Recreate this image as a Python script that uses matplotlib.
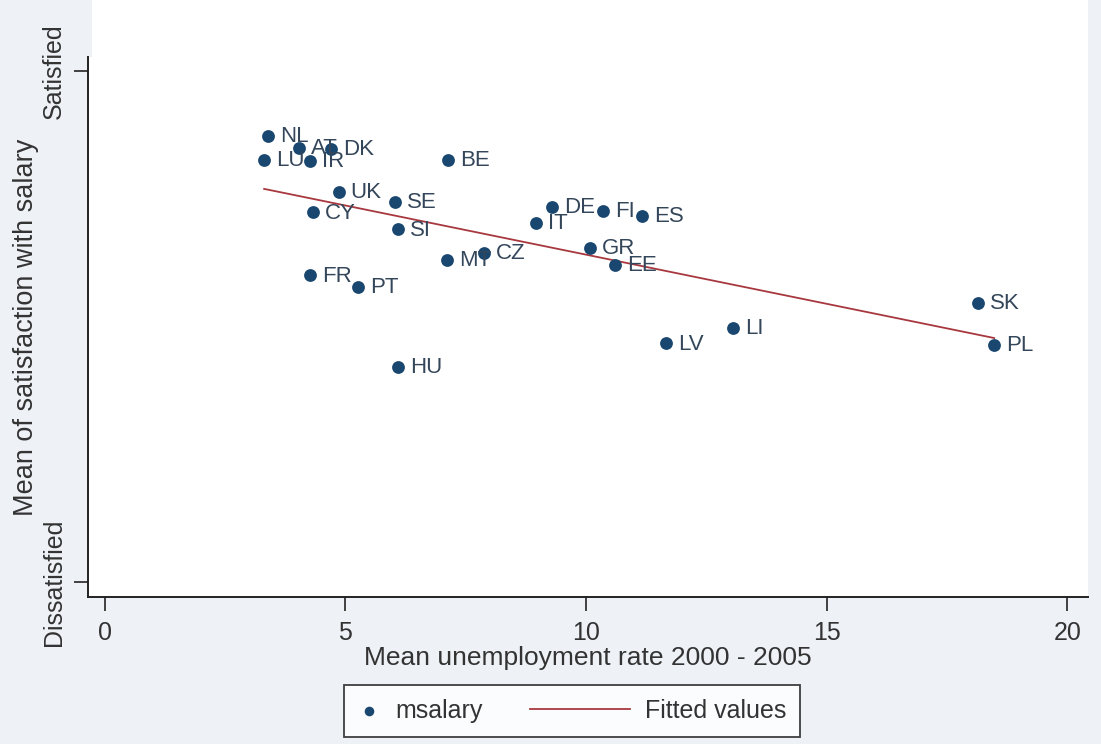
import numpy as np
import matplotlib.pyplot as plt
from matplotlib.patches import Rectangle
from matplotlib.legend_handler import HandlerLine2D

plt.rcParams["font.family"] = ["Liberation Sans", "DejaVu Sans"]

# country means: unemployment 2000-2005 vs satisfaction with salary (1 = dissatisfied, 4 = satisfied)
countries = ["NL", "AT", "DK", "LU", "IR", "BE", "UK", "SE", "CY", "SI",
             "DE", "FI", "ES", "IT", "GR", "CZ", "MT", "EE", "FR", "PT",
             "SK", "LI", "LV", "PL", "HU"]
unemployment = [3.39, 4.03, 4.70, 3.31, 4.26, 7.13, 4.86, 6.03, 4.32, 6.09,
                9.29, 10.35, 11.16, 8.96, 10.08, 7.88, 7.11, 10.60, 4.26, 5.26,
                18.15, 13.06, 11.66, 18.48, 6.09]
msalary = [3.62, 3.55, 3.54, 3.48, 3.47, 3.48, 3.29, 3.23, 3.17, 3.07,
           3.20, 3.18, 3.15, 3.11, 2.96, 2.93, 2.89, 2.86, 2.80, 2.73,
           2.64, 2.49, 2.40, 2.39, 2.26]

x = np.array(unemployment)
y = np.array(msalary)

navy = "#1a476f"
red = "#a8383f"
bg = "#eef2f7"
txt = "#333333"


class LongLineHandler(HandlerLine2D):
    # stretch the fitted-line key to the left into the column gap
    def create_artists(self, legend, orig_handle, xdescent, ydescent,
                       width, height, fontsize, trans):
        ext = 3.1 * fontsize
        return super().create_artists(legend, orig_handle, xdescent + ext, ydescent,
                                      width + ext, height, fontsize, trans)


fig = plt.figure(figsize=(11.01, 7.44), dpi=100, facecolor=bg)
# white band above the plot area
fig.patches.append(Rectangle((92 / 1101, 1 - 62 / 744), 996 / 1101, 62 / 744,
                             transform=fig.transFigure, facecolor="white",
                             edgecolor="none", zorder=0))
ax = fig.add_axes([88 / 1101, 1 - 597 / 744, (1088 - 88) / 1101, (597 - 57) / 744])
ax.set_facecolor("white")

ax.scatter(x, y, s=85, color=navy, zorder=3, linewidths=0, label="msalary")
for c, xi, yi in zip(countries, x, y):
    ax.annotate(c, (xi, yi), xytext=(8.5, -0.5), textcoords="offset points",
                va="center", ha="left", fontsize=16, color="#34465a", zorder=4)

# linear fit across the observed range
b, a = np.polyfit(x, y, 1)
xf = np.array([x.min(), x.max()])
fit_line, = ax.plot(xf, a + b * xf, color=red, lw=1.3, zorder=2, label="Fitted values")

ax.set_xlim(-0.35, 20.43)
ax.set_ylim(0.911, 4.082)
ax.set_xticks([0, 5, 10, 15, 20])
ax.set_yticks([1, 4])
ax.set_yticklabels(["Dissatisfied", "Satisfied"], rotation=90, va="center")
for s in ["top", "right"]:
    ax.spines[s].set_visible(False)
for s in ["left", "bottom"]:
    ax.spines[s].set_linewidth(1.4)
    ax.spines[s].set_color("#222222")
ax.tick_params(direction="out", length=10, width=1.3, labelsize=18,
               labelcolor=txt, color="#333333")
ax.tick_params(axis="x", pad=7)
ax.tick_params(axis="y", pad=6)
ax.set_xlabel("Mean unemployment rate 2000 - 2005", fontsize=19, color=txt, labelpad=1)
ax.set_ylabel("Mean of satisfaction with salary", fontsize=19.5, color=txt, labelpad=2)

leg = fig.legend(loc="center", bbox_to_anchor=(572 / 1101, 1 - 711 / 744), ncol=2,
                 fontsize=18, frameon=True, fancybox=False, edgecolor="#111111",
                 handlelength=0.9, handletextpad=0.6, columnspacing=5.0,
                 borderpad=0.55, markerscale=0.75,
                 handler_map={fit_line: LongLineHandler()})
leg.get_frame().set_linewidth(1.3)
leg.get_frame().set_facecolor("white")
for t in leg.get_texts():
    t.set_color(txt)

plt.savefig("out.png", dpi=100, facecolor=bg)
